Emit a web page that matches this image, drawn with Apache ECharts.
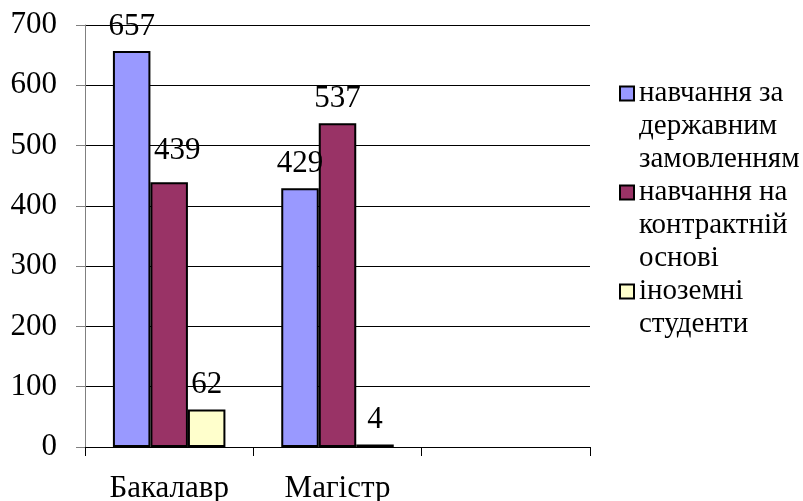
<!DOCTYPE html>
<html>
<head>
<meta charset="utf-8">
<script src="https://cdn.jsdelivr.net/npm/echarts@6/dist/echarts.min.js"></script>
<style>html,body{margin:0;padding:0;background:#fff}#c{width:803px;height:501px}</style>
</head>
<body>
<div id="c"></div>
<script>
// ---- data ----
var categories = ['Бакалавр', 'Магістр', ''];
var seriesNames = ['навчання за державним замовленням', 'навчання на контрактній основі', 'іноземні студенти'];
var legendLines = [['навчання за', 'державним', 'замовленням'], ['навчання на', 'контрактній', 'основі'], ['іноземні', 'студенти']];
var stateOrder = [657, 429, null];
var contract = [439, 537, null];
var foreign = [62, 4, null];
var yTicks = [0, 100, 200, 300, 400, 500, 600, 700];

// ---- style ----
var FONT = 'Liberation Serif';
var colors = ['#9999FF', '#993366', '#FFFFCC'];
var values = [stateOrder, contract, foreign];
// label nudges (style only): seriesIndex-dataIndex -> [dx, dy]
var labelNudge = {'1-0': [8, -7]};

var chart = echarts.init(document.getElementById('c'), null, {renderer: 'canvas'});

var barSeries = seriesNames.map(function (name, si) {
  return {
    name: name,
    type: 'bar',
    barWidth: 37.5,
    barGap: '0%',
    itemStyle: {color: colors[si], borderColor: '#000', borderWidth: 2},
    label: {
      show: true, position: 'top', distance: 9,
      fontFamily: FONT, fontSize: 31, color: '#000'
    },
    data: values[si].map(function (v, di) {
      var item = {value: v};
      var n = labelNudge[si + '-' + di];
      if (n) item.label = {offset: n};
      return item;
    })
  };
});

// legend text: pad with blank lines so the first line sits level with the marker
function legendText(lines) {
  var out = [' ', ' '].concat(lines);
  while (out.length < 5) out.push(' ');
  return out.join('\n');
}

chart.setOption({
  animation: false,
  backgroundColor: '#fff',
  textStyle: {fontFamily: FONT},
  grid: {left: 85, right: 213, top: 25, bottom: 54, containLabel: false, outerBoundsMode: 'none'},
  legend: {
    orient: 'vertical', left: 619, top: 11, padding: 0, itemGap: -66,
    itemWidth: 14, itemHeight: 14, icon: 'rect',
    itemStyle: {borderColor: '#000', borderWidth: 2},
    textStyle: {fontFamily: FONT, fontSize: 29, color: '#000', lineHeight: 33},
    formatter: function (name) {
      return legendText(legendLines[seriesNames.indexOf(name)]);
    },
    data: seriesNames
  },
  xAxis: {
    type: 'category', data: categories,
    axisLine: {lineStyle: {color: '#000', width: 1}},
    axisTick: {show: true, length: 9, alignWithLabel: false, lineStyle: {color: '#000'}},
    axisLabel: {fontFamily: FONT, fontSize: 31, color: '#000', margin: 26, interval: 0},
    splitLine: {show: false}
  },
  yAxis: {
    type: 'value', min: yTicks[0], max: yTicks[yTicks.length - 1], interval: 100,
    axisLine: {show: true, lineStyle: {color: '#808080', width: 1}},
    axisTick: {show: true, length: 9, inside: false, lineStyle: {color: '#808080'}},
    axisLabel: {fontFamily: FONT, fontSize: 31, color: '#000', margin: 28},
    splitLine: {show: true, lineStyle: {color: '#000', width: 1}}
  },
  series: barSeries
});
</script>
</body>
</html>
